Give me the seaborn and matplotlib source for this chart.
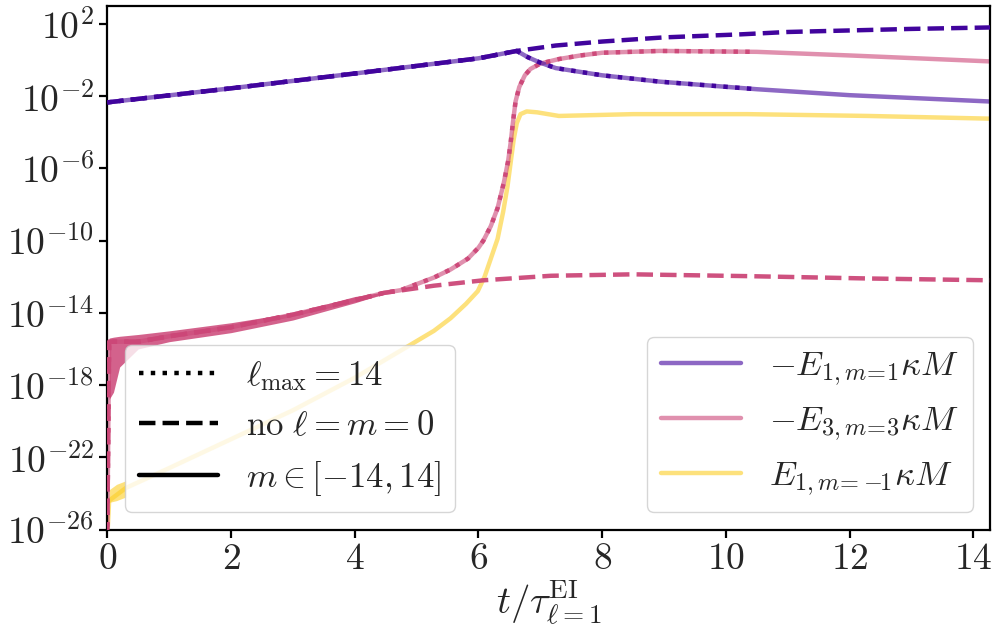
import numpy as np
import matplotlib
matplotlib.use('Agg')
import matplotlib.pyplot as plt
from matplotlib.lines import Line2D
from matplotlib.ticker import FixedLocator, FixedFormatter, NullLocator
import seaborn as sns

# ---- data (y values are log10) ----
# -E_{1,m=1}: common growth phase, then the branches
p1_t = [0.0, 2.0, 4.0, 6.0, 6.62]
p1_y = [-2.35, -1.57, -0.75, 0.09, 0.50]
p1_dash_t = [6.62, 7.25, 8.0, 9.0, 10.25, 11.0, 12.3, 13.0, 14.27]
p1_dash_y = [0.50, 0.80, 1.02, 1.25, 1.42, 1.55, 1.66, 1.72, 1.80]
p1_late_t = [6.62, 6.8, 7.0, 7.25, 8.0, 8.93, 10.5, 12.0, 14.27]
p1_late_y = [0.50, 0.15, -0.15, -0.45, -0.85, -1.20, -1.62, -1.95, -2.30]
p1_dot_end = 10.5

# -E_{3,m=3}
p3_t = [0.0, 0.03, 0.5, 1.0, 2.0, 3.0, 4.0, 4.47]
p3_y = [-26.5, -15.6, -15.6, -15.3, -14.8, -14.1, -13.3, -12.9]
p3_band_t = [0.03, 0.1, 0.2, 0.5, 1.0, 2.0, 3.0, 4.0, 4.47]
p3_band_hi = [-15.4, -15.35, -15.3, -15.2, -15.0, -14.55, -14.0, -13.1, -12.85]
p3_band_lo = [-18.8, -18.4, -17.0, -16.0, -15.6, -15.1, -14.4, -13.45, -12.95]
p3_dash_t = [4.47, 5.28, 6.08, 7.17, 8.5, 10.35, 12.3, 14.27]
p3_dash_y = [-12.9, -12.5, -12.2, -11.95, -11.87, -11.97, -12.1, -12.2]
p3_late_t = [4.47, 4.74, 5.28, 5.55, 5.83, 6.0, 6.08, 6.2, 6.31, 6.41, 6.48,
             6.52, 6.56, 6.6, 6.66, 6.75, 6.84, 7.0, 7.3, 7.65, 8.0, 8.93,
             10.5, 12.0, 14.27]
p3_late_y = [-12.9, -12.75, -12.05, -11.6, -11.0, -10.4, -10.0, -9.2, -8.2,
             -6.8, -5.6, -4.6, -3.4, -2.3, -1.5, -0.85, -0.5, -0.2, 0.05,
             0.25, 0.4, 0.5, 0.45, 0.25, -0.08]
p3_dot_end = 10.5

# E_{1,m=-1}
m1_t = [0.0, 0.03, 0.3, 1.0, 2.0, 3.0, 4.0, 4.74, 5.28, 5.55, 5.8, 5.99,
        6.1, 6.2, 6.31, 6.4, 6.47, 6.52, 6.57, 6.62, 6.68, 6.78, 6.95, 7.3,
        8.5, 10.35, 12.3, 14.27]
m1_y = [-26.5, -24.4, -23.7, -22.6, -21.0, -19.4, -17.6, -16.1, -15.0, -14.3,
        -13.5, -12.8, -12.0, -11.0, -9.9, -8.4, -7.0, -5.7, -4.4, -3.5, -3.0,
        -2.85, -2.9, -3.1, -3.0, -3.0, -3.1, -3.25]
m1_band_t = [0.03, 0.15, 0.3]
m1_band_hi = [-23.8, -23.5, -23.3]
m1_band_lo = [-24.5, -24.4, -24.2]

labels = [r'$-E_{1,m\!=\!1}\kappa M$', r'$-E_{3,m\!=\!3}\kappa M$',
          r'$E_{1,m\!=\!-\!\!1}\kappa M$']
style_labels = [r'$\ell_{\rm max}=14$', r'$\mathrm{no}\ \ell=m=0$', r'$m\in[-14,14]$']
yticks = [-26, -22, -18, -14, -10, -6, -2, 2]
xticks = [0, 2, 4, 6, 8, 10, 12, 14]

sns.set_theme(style='ticks')
plt.rcParams['font.family'] = 'serif'
plt.rcParams['font.serif'] = ['cmr10', 'DejaVu Serif']
plt.rcParams['mathtext.fontset'] = 'cm'
plt.rcParams['axes.formatter.use_mathtext'] = True
plt.rcParams['axes.linewidth'] = 1.6
plt.rcParams['axes.edgecolor'] = 'black'

cmap = sns.color_palette('plasma', as_cmap=True)
c_p1, c_p3, c_m1 = cmap(0.1), cmap(0.5), cmap(0.9)
LW = 3.2
A_SOLID = 0.6


def pw(v):
    return 10.0 ** np.asarray(v, dtype=float)


def cut(t, y, tmax):
    t = np.asarray(t); y = np.asarray(y)
    keep = t <= tmax + 1e-9
    return t[keep], y[keep]


fig, ax = plt.subplots(figsize=(9.96, 6.43), dpi=100)
fig.subplots_adjust(left=0.1077, right=0.994, top=0.991, bottom=0.1765)

def line(t, y, color, ls, alpha, z):
    sns.lineplot(x=list(t), y=list(pw(y)), ax=ax, color=color, linestyle=ls,
                 lw=LW, alpha=alpha, sort=False, estimator=None,
                 legend=False, zorder=z)

# solid (full m range): light versions
ax.fill_between(m1_band_t, pw(m1_band_lo), pw(m1_band_hi), color=c_m1,
                alpha=A_SOLID, lw=0, zorder=1)
line(m1_t, m1_y, c_m1, '-', A_SOLID, 1)
line(p3_t + p3_late_t, p3_y + p3_late_y, c_p3, '-', A_SOLID, 1)
line(p1_t + p1_late_t, p1_y + p1_late_y, c_p1, '-', A_SOLID, 1)

# pink early oscillating band
ax.fill_between(p3_band_t, pw(p3_band_lo), pw(p3_band_hi), color=c_p3,
                alpha=0.85, lw=0, zorder=2)

# dashed (no l=m=0)
line(p3_t + p3_dash_t, p3_y + p3_dash_y, c_p3, '--', 0.95, 3)
line(p1_t + p1_dash_t, p1_y + p1_dash_y, c_p1, '--', 1.0, 3)

# dotted (l_max = 14)
t, y = cut(p3_late_t, p3_late_y, p3_dot_end)
line(p3_t + list(t), p3_y + list(y), c_p3, ':', 0.95, 4)
t, y = cut(p1_late_t, p1_late_y, p1_dot_end)
line(p1_t + list(t), p1_y + list(y), c_p1, ':', 1.0, 4)

ax.set_yscale('log')
ax.set_ylim(1e-26, 1e3)
ax.set_xlim(0, 14.27)
ax.yaxis.set_major_locator(FixedLocator([10.0 ** k for k in yticks]))
ax.yaxis.set_major_formatter(FixedFormatter([r'$10^{%d}$' % k for k in yticks]))
ax.yaxis.set_minor_locator(NullLocator())
ax.xaxis.set_major_locator(FixedLocator(xticks))
ax.xaxis.set_major_formatter(FixedFormatter([r'$%d$' % k for k in xticks]))
ax.tick_params(axis='both', labelsize=27, length=6, width=1.6, color='black')
ax.set_xlabel(r'$t/\tau^{\rm EI}_{\ell=1}$', fontsize=28, labelpad=2)
ax.set_ylabel('')

style_handles = [Line2D([], [], color='black', ls=ls, lw=LW)
                 for ls in [':', '--', '-']]
leg1 = ax.legend(style_handles, style_labels, loc='lower left', fontsize=25,
                 handlelength=2.3, framealpha=0.8)
ax.add_artist(leg1)
color_handles = [Line2D([], [], color=c, lw=LW, alpha=A_SOLID)
                 for c in [c_p1, c_p3, c_m1]]
ax.legend(color_handles, labels, loc='lower right', fontsize=25,
          handlelength=2.3, framealpha=0.8)

fig.savefig('out.png', dpi=100)
